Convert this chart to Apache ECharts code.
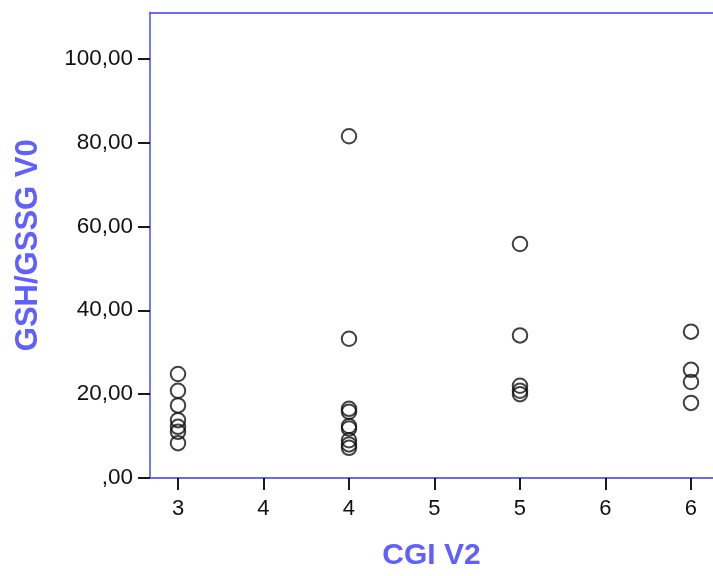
<!DOCTYPE html>
<html>
<head>
<meta charset="utf-8">
<script src="https://cdn.jsdelivr.net/npm/echarts@6/dist/echarts.min.js"></script>
<style>
html,body{margin:0;padding:0;background:#fff;}
#main{width:713px;height:576px;}
</style>
</head>
<body>
<div id="main"></div>
<script>
// Data
const cgiV2 = [3,3,3,3,3,3,3, 4,4,4,4,4,4,4,4,4, 5,5,5,5,5, 6,6,6,6];
const gshGssgV0 = [24.8,20.8,17.3,13.8,12.2,11.0,8.3,
                   81.5,33.2,16.5,15.8,12.4,11.8,9.0,8.0,7.2,
                   55.8,34.0,22.0,20.8,20.0,
                   34.9,25.8,22.9,17.9];
const xTickValues = [3,3.5,4,4.5,5,5.5,6];
const xTickLabels = ["3","4","4","5","5","6","6"];
const yTickValues = [0,20,40,60,80,100];
const yTickLabels = [",00","20,00","40,00","60,00","80,00","100,00"];
const xTitle = "CGI V2";
const yTitle = "GSH/GSSG V0";

const points = cgiV2.map((x,i)=>[x, gshGssgV0[i]]);
const axisBlue = '#6868ff';
const titleBlue = '#6060ff';
const font = 'Liberation Sans, Arial, sans-serif';
const X_MIN = 2.8363, X_MAX = 6.1287;

const chart = echarts.init(document.getElementById('main'), null, {renderer:'canvas'});
chart.setOption({
  animation:false,
  backgroundColor:'#ffffff',
  grid:{left:150, top:12.5, width:563, height:465.5, show:false},
  xAxis:[{
    type:'value', min:X_MIN, max:X_MAX, position:'bottom',
    axisLine:{show:true, lineStyle:{color:axisBlue, width:1.8}},
    axisTick:{show:true, length:12, customValues:xTickValues, lineStyle:{color:'#000', width:1.8}},
    axisLabel:{customValues:xTickValues, margin:20, color:'#111', fontSize:22, fontFamily:font,
      formatter:(v)=>{const i=xTickValues.findIndex(t=>Math.abs(t-v)<1e-6); return i>=0?xTickLabels[i]:'';}},
    splitLine:{show:false},
    name:xTitle, nameLocation:'middle', nameGap:63,
    nameTextStyle:{color:titleBlue, fontSize:30, fontWeight:'bold', fontFamily:font}
  },{
    type:'value', min:X_MIN, max:X_MAX, position:'top',
    axisLine:{show:true, onZero:false, lineStyle:{color:axisBlue, width:1.8}},
    axisTick:{show:false}, axisLabel:{show:false}, splitLine:{show:false}
  }],
  yAxis:{
    type:'value', min:0, max:111,
    axisLine:{show:true, lineStyle:{color:axisBlue, width:1.8}},
    axisTick:{show:true, length:12, customValues:yTickValues, lineStyle:{color:'#000', width:1.8}},
    axisLabel:{customValues:yTickValues, margin:17, color:'#111', fontSize:22.5, fontFamily:font,
      formatter:(v)=>{const i=yTickValues.findIndex(t=>Math.abs(t-v)<1e-6); return i>=0?yTickLabels[i]:'';}},
    splitLine:{show:false},
    name:yTitle, nameLocation:'middle', nameGap:106, nameRotate:90,
    nameTextStyle:{color:titleBlue, fontSize:31, fontWeight:'bold', fontFamily:font}
  },
  series:[{
    type:'scatter', data:points, symbol:'circle', symbolSize:14.5, xAxisIndex:0,
    itemStyle:{color:'rgba(0,0,0,0)', borderColor:'#111', borderWidth:2},
    emphasis:{disabled:true}
  }]
});
</script>
</body>
</html>
